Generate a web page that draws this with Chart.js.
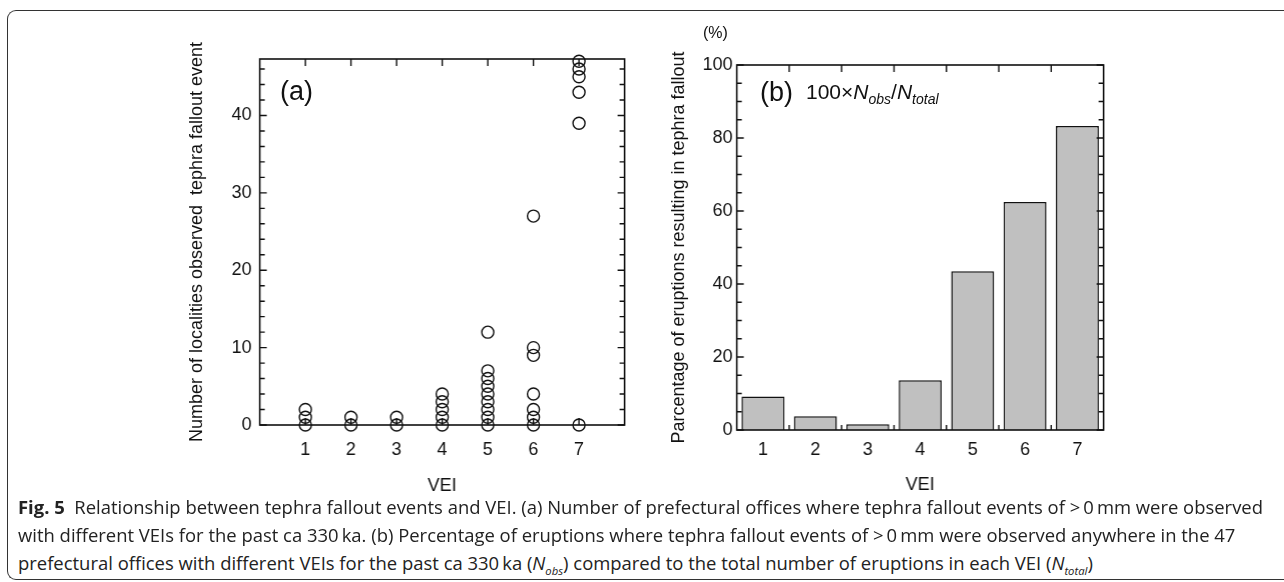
<!DOCTYPE html>
<html>
<head>
<meta charset="utf-8">
<script src="https://cdn.jsdelivr.net/npm/chart.js@4.4.1/dist/chart.umd.min.js"></script>
<style>
  body { margin: 0; background: #fff; width: 1284px; height: 582px; overflow: hidden; position: relative;
         font-family: 'Liberation Sans', Arial, sans-serif; color: #111; }
  .frame { position: absolute; left: 7px; top: 10px; width: 1320px; height: 568px;
           border-left: 1.5px solid #333; border-top: 1.5px solid #333; border-bottom: 1.5px solid #333;
           border-top-left-radius: 9px; border-bottom-left-radius: 9px; }
  .chart-wrap { position: absolute; }
  .tag { position: absolute; font-size: 27px; line-height: 30px; }
  .formula { position: absolute; font-size: 21px; line-height: 24px; }
  .formula sub { font-size: 14px; }
  .unit { position: absolute; font-size: 16px; }
  .caption { position: absolute; left: 18px; font-family: 'Open Sans', sans-serif; font-size: 18px;
             color: #222; white-space: nowrap; transform-origin: 0 50%; line-height: 20px; }
  .caption sub { font-size: 11px; }
</style>
</head>
<body>
<div class="frame"></div>
<div class="chart-wrap" id="wrapA"><canvas id="chartA" width="460" height="500"></canvas></div>
<div class="chart-wrap" id="wrapB"><canvas id="chartB" width="460" height="500"></canvas></div>
<div class="tag" style="left:280px;top:76px;">(a)</div>
<div class="tag" style="left:760px;top:77px;">(b)</div>
<div class="formula" style="left:806px;top:80px;">100&times;<i>N</i><sub><i>obs</i></sub>/<i>N</i><sub><i>total</i></sub></div>
<div class="unit" style="left:703px;top:24px;">(%)</div>
<div class="caption" id="cap1" style="top:497px;"><b>Fig. 5</b>&nbsp; Relationship between tephra fallout events and VEI. (a) Number of prefectural offices where tephra fallout events of &gt;&thinsp;0&thinsp;mm were observed</div>
<div class="caption" id="cap2" style="top:525px;">with different VEIs for the past ca 330&thinsp;ka. (b) Percentage of eruptions where tephra fallout events of &gt;&thinsp;0&thinsp;mm were observed anywhere in the 47</div>
<div class="caption" id="cap3" style="top:553px;">prefectural offices with different VEIs for the past ca 330&thinsp;ka (<i>N</i><sub><i>obs</i></sub>) compared to the total number of eruptions in each VEI (<i>N</i><sub><i>total</i></sub>)</div>
<script>
// (a) localities with observed tephra fallout, one array per VEI
const veiLabels = ['1', '2', '3', '4', '5', '6', '7'];
const vei1 = [0, 1, 2];
const vei2 = [0, 1];
const vei3 = [0, 1];
const vei4 = [0, 1, 2, 3, 4];
const vei5 = [0, 1, 2, 3, 4, 5, 6, 7, 12];
const vei6 = [0, 1, 2, 4, 9, 10, 27];
const vei7 = [0, 39, 43, 45, 46, 47];
// (b) percentage of eruptions resulting in tephra fallout
const fallPercent = [9.2, 3.8, 1.6, 13.6, 43.5, 62.5, 83.3];

const tickFont = { family: "'Liberation Sans', Arial, sans-serif", size: 18 };
const titleFont = { family: "'Liberation Sans', Arial, sans-serif", size: 18 };

// ticks pointing into the plot, plus the box around it
const innerTicks = {
  id: 'innerTicks',
  afterDatasetsDraw(chart, args, opts) {
    const { ctx, chartArea: a } = chart;
    const xs = chart.scales.x, ys = chart.scales.y;
    ctx.save();
    ctx.strokeStyle = '#111';
    ctx.lineWidth = 1.4;
    ctx.beginPath();
    ys.ticks.forEach(t => {
      const y = ys.getPixelForValue(t.value);
      const len = t.label ? opts.major : opts.minor;
      ctx.moveTo(a.left, y); ctx.lineTo(a.left + len, y);
      if (opts.mirrorY) { ctx.moveTo(a.right, y); ctx.lineTo(a.right - len, y); }
    });
    let xPos = [];
    if (opts.between) {
      for (let i = 0; i < xs.ticks.length - 1; i++) {
        xPos.push((xs.getPixelForValue(i) + xs.getPixelForValue(i + 1)) / 2);
      }
    } else {
      xPos = xs.ticks.filter(t => t.label !== '').map(t => xs.getPixelForValue(t.value));
    }
    xPos.forEach(x => {
      ctx.moveTo(x, a.top); ctx.lineTo(x, a.top + opts.major);
      ctx.moveTo(x, a.bottom); ctx.lineTo(x, a.bottom - opts.bottomLen);
    });
    ctx.stroke();
    ctx.lineWidth = 1.6;
    ctx.strokeRect(a.left, a.top, a.right - a.left, a.bottom - a.top);
    ctx.restore();
  }
};

const veiSets = [vei1, vei2, vei3, vei4, vei5, vei6, vei7];
const scatterPoints = [];
veiSets.forEach((arr, i) => {
  arr.forEach(v => scatterPoints.push({ x: i + 1, y: v }));
});

const chartA = new Chart(document.getElementById('chartA'), {
  type: 'scatter',
  data: {
    datasets: [{
      data: scatterPoints,
      pointStyle: 'circle',
      pointRadius: 6,
      pointBorderWidth: 1.4,
      pointBorderColor: '#111',
      pointBackgroundColor: 'rgba(0,0,0,0)',
      clip: false
    }]
  },
  options: {
    responsive: false,
    maintainAspectRatio: false,
    animation: false,
    layout: { padding: { top: 30, bottom: 10, right: 10 } },
    plugins: {
      legend: { display: false },
      tooltip: { enabled: false },
      innerTicks: { major: 7, minor: 5, mirrorY: true, between: false, bottomLen: 7 }
    },
    scales: {
      x: {
        type: 'linear', min: 0, max: 8,
        grid: { display: false, drawTicks: false },
        border: { display: false },
        ticks: { stepSize: 1, padding: 14, color: '#111', font: tickFont,
                 callback: v => (v >= 1 && v <= 7) ? veiLabels[v - 1] : '' },
        title: { display: true, text: 'VEI', color: '#111', font: titleFont, padding: { top: 1, bottom: 0 } }
      },
      y: {
        type: 'linear', min: 0, max: 47.3,
        grid: { display: false, drawTicks: false },
        border: { display: false },
        ticks: { stepSize: 2, includeBounds: false, autoSkip: false, padding: 8, color: '#111', font: tickFont,
                 callback: v => v % 10 === 0 ? String(v) : '' },
        title: { display: true, text: 'Number of localities observed  tephra fallout event', color: '#111',
                 font: titleFont, padding: { top: 0, bottom: 16 } }
      }
    }
  },
  plugins: [innerTicks]
});

const chartB = new Chart(document.getElementById('chartB'), {
  type: 'bar',
  data: {
    labels: veiLabels,
    datasets: [{
      data: fallPercent,
      backgroundColor: '#c0c0c0',
      borderColor: '#111',
      borderWidth: 1.5,
      categoryPercentage: 1,
      barPercentage: 0.82
    }]
  },
  options: {
    responsive: false,
    maintainAspectRatio: false,
    animation: false,
    layout: { padding: { top: 30, bottom: 10, right: 10 } },
    plugins: {
      legend: { display: false },
      tooltip: { enabled: false },
      innerTicks: { major: 7, minor: 5, mirrorY: true, between: true, bottomLen: 5 }
    },
    scales: {
      x: {
        grid: { display: false, drawTicks: false },
        border: { display: false },
        ticks: { padding: 9, color: '#111', font: tickFont },
        title: { display: true, text: 'VEI', color: '#111', font: titleFont, padding: { top: 5, bottom: 0 } }
      },
      y: {
        min: 0, max: 100,
        grid: { display: false, drawTicks: false },
        border: { display: false },
        ticks: { stepSize: 5, autoSkip: false, padding: 4, color: '#111', font: tickFont,
                 callback: v => v % 20 === 0 ? String(v) : '' },
        title: { display: true, text: 'Parcentage of eruptions resulting in tephra fallout', color: '#111',
                 font: titleFont, padding: { top: 0, bottom: 9 } }
      }
    }
  },
  plugins: [innerTicks]
});

// move each canvas so its plot area lands on the box seen in the figure
function fitChart(chart, wrapId, box) {
  const a = chart.chartArea;
  const l = a.left, t = a.top, r = chart.width - a.right, b = chart.height - a.bottom;
  const wrap = document.getElementById(wrapId);
  wrap.style.left = (box.left - l) + 'px';
  wrap.style.top = (box.top - t) + 'px';
  chart.resize(box.width + l + r, box.height + t + b);
}
fitChart(chartA, 'wrapA', { left: 260, top: 59, width: 364, height: 366 });
fitChart(chartB, 'wrapB', { left: 737, top: 65, width: 366, height: 365 });

// squeeze the caption lines to the narrow face of the original
const capScale = 1245 / document.getElementById('cap1').getBoundingClientRect().width;
['cap1', 'cap2', 'cap3'].forEach(id => {
  document.getElementById(id).style.transform = 'scaleX(' + capScale + ')';
});
</script>
</body>
</html>
